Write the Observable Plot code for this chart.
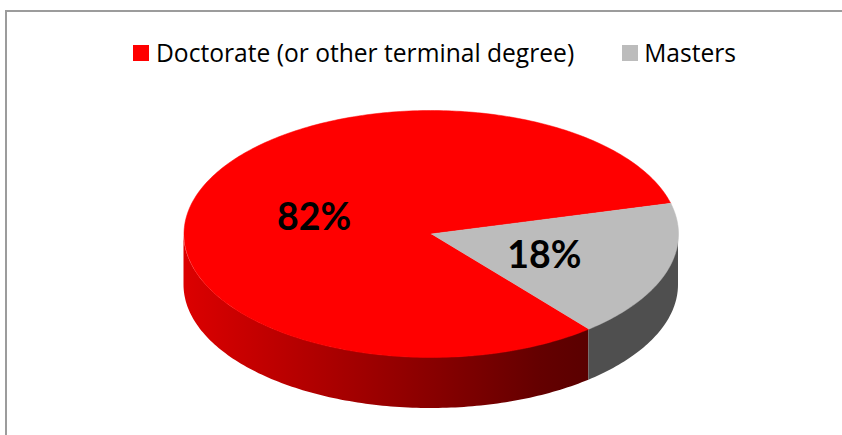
<!DOCTYPE html>
<html>
<head>
<meta charset="utf-8">
<script src="https://cdn.jsdelivr.net/npm/d3@7"></script>
<script src="https://cdn.jsdelivr.net/npm/@observablehq/plot@0.6"></script>
<style>
html,body{margin:0;padding:0;background:#fff;}
body{width:842px;height:435px;position:relative;overflow:hidden;}
#frame{position:absolute;left:5px;top:10px;width:845px;height:440px;border:2px solid #9c9c9c;box-sizing:border-box;}
#chart{position:absolute;left:0;top:0;}
#chart svg{display:block;background:transparent;}
#legend{position:absolute;top:37px;left:133px;display:flex;align-items:center;font-family:"Open Sans",sans-serif;font-size:24.6px;line-height:32px;color:#000;white-space:nowrap;}
#legend .sw{display:inline-block;width:16px;height:16px;margin-right:7px;}
#legend .item{display:flex;align-items:center;}
</style>
</head>
<body>
<div id="frame"></div>
<div id="chart"></div>
<div id="legend"></div>
<script>
const categories = ["Doctorate (or other terminal degree)", "Masters"];
const shares = [82, 18];
const labels = ["82%", "18%"];
const topColors = ["#ff0000", "#bcbcbc"];
const wallColors = ["url(#wallRed)", "#4f4f4f"];

// Pie layout: angles in radians, clockwise from east, in a unit circle
const firstAngle = 50.4 * Math.PI / 180;
const depth = 51 / 123.5;
const labelRadius = 0.49;
const step = Math.PI / 180;

let a0 = firstAngle;
const slices = categories.map((name, i) => {
  const a1 = a0 + shares[i] / 100 * 2 * Math.PI;
  const s = {name, share: shares[i], label: labels[i], a0, a1, mid: (a0 + a1) / 2};
  a0 = a1;
  return s;
});
const arc = (from, to) => {
  const n = Math.ceil(Math.abs(to - from) / step);
  return d3.range(n + 1).map(k => from + (to - from) * k / n);
};
const px = a => Math.cos(a);
const py = a => -Math.sin(a);

const topPoints = slices.flatMap(s => [
  {name: s.name, x: 0, y: 0},
  ...arc(s.a0, s.a1).map(a => ({name: s.name, x: px(a), y: py(a)}))
]);
// visible side wall: front half of the rim only (clockwise angle 0..180 degrees)
const wall = slices.flatMap(s => {
  const ranges = [[s.a0, Math.min(s.a1, Math.PI)], [Math.max(s.a0, 2 * Math.PI), s.a1]];
  return ranges.filter(r => r[1] > r[0]).map(r => {
    const from = r[0] % (2 * Math.PI), to = from + (r[1] - r[0]);
    return {name: s.name, pts: arc(from, to)};
  });
});
const wallPoints = wall.flatMap(w => w.pts.map(a => ({name: w.name, x: px(a), y1: py(a), y2: py(a) - depth})));

const gradient = () => {
  const defs = d3.create("svg:defs");
  const g = defs.append("linearGradient").attr("id", "wallRed").attr("x1", 0).attr("x2", 1).attr("y1", 0).attr("y2", 0);
  g.append("stop").attr("offset", "0%").attr("stop-color", "#dc0000");
  g.append("stop").attr("offset", "88%").attr("stop-color", "#640000");
  g.append("stop").attr("offset", "100%").attr("stop-color", "#5a0000");
  return defs.node();
};

const chart = Plot.plot({
  width: 842, height: 435,
  margin: 0,
  x: {domain: [-1, 1], range: [183.5, 678], axis: null},
  y: {domain: [1, -1], range: [110, 357], axis: null},
  color: {domain: categories, range: topColors},
  style: {background: "transparent"},
  marks: [
    gradient,
    ...categories.map((name, i) => Plot.areaY(wallPoints.filter(d => d.name === name), {
      x: "x", y1: "y1", y2: "y2", fill: wallColors[i]
    })),
    Plot.line(topPoints, {x: "x", y: "y", z: "name", fill: "name", stroke: "name", strokeWidth: 0.5}),
    Plot.text(slices, {
      x: d => labelRadius * px(d.mid),
      y: d => labelRadius * py(d.mid),
      text: "label",
      dx: -2,
      dy: 3,
      fontFamily: "Lato, sans-serif",
      fontWeight: 700,
      fontSize: 37.5,
      fill: "#000"
    })
  ]
});
document.getElementById("chart").append(chart);

const legend = document.getElementById("legend");
categories.forEach((name, i) => {
  const item = document.createElement("div");
  item.className = "item";
  if (i > 0) item.style.marginLeft = "48px";
  const sw = document.createElement("span");
  sw.className = "sw";
  sw.style.background = topColors[i];
  if (i > 0) sw.style.marginRight = "6px";
  item.append(sw, document.createTextNode(name));
  legend.append(item);
});
</script>
</body>
</html>
